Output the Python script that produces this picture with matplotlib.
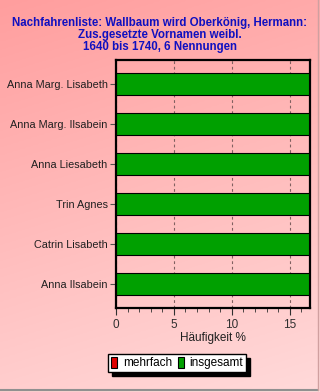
import numpy as np
import matplotlib
matplotlib.use("Agg")
import matplotlib.pyplot as plt
from matplotlib.patches import Rectangle
from matplotlib.lines import Line2D

categories = ["Anna Marg. Lisabeth", "Anna Marg. Ilsabein", "Anna Liesabeth",
              "Trin Agnes", "Catrin Lisabeth", "Anna Ilsabein"]
insgesamt = [16.67, 16.67, 16.67, 16.67, 16.67, 16.67]
mehrfach = [0, 0, 0, 0, 0, 0]
series_names = ["mehrfach", "insgesamt"]
title = "Nachfahrenliste: Wallbaum wird Oberkönig, Hermann:\nZus.gesetzte Vornamen weibl.\n1640 bis 1740, 6 Nennungen"
xlabel = "Häufigkeit %"

plt.rcParams['font.family'] = ['Liberation Sans', 'DejaVu Sans']

fig = plt.figure(figsize=(3.2, 3.92), dpi=100)

# background gradient
bg = fig.add_axes([0, 0, 1, 1], zorder=-10)
h, w = 200, 100
yy = np.linspace(0, 1, h)[:, None]
xx = np.linspace(0, 1, w)[None, :]
t = np.clip(0.8 * yy + 0.2 * xx, 0, 1)
top = np.array([255, 158, 158]) / 255
bot = np.array([255, 218, 218]) / 255
img = top[None, None, :] * (1 - t[..., None]) + bot[None, None, :] * t[..., None]
bg.imshow(img, aspect='auto', extent=[0, 1, 0, 1], origin='upper')
bg.set_axis_off()
bg.set_xlim(0, 1)
bg.set_ylim(0, 1)
bg.add_line(Line2D([0, 0.994], [0.004, 0.004], color='#909090', lw=1.5, transform=bg.transAxes))
bg.add_line(Line2D([0.994, 0.994], [0.004, 1], color='#d0a0a0', lw=1.0, transform=bg.transAxes))

ax = fig.add_axes([116 / 320, 1 - 308 / 392, 194 / 320, 248 / 392])
ax.set_facecolor('none')

y = np.arange(len(categories))
ax.barh(y, insgesamt, height=0.56, color='#00A000', edgecolor='black', lw=0.8, zorder=3)
ax.barh(y, mehrfach, height=0.56, color='#E00000', edgecolor='black', lw=0.8, zorder=3)

ax.set_yticks(y)
ax.set_yticklabels(categories, fontsize=7.8, color='#202020')
ax.set_ylim(len(categories) - 0.4, -0.6)
ax.set_xlim(0, 16.75)
ax.set_xticks([0, 5, 10, 15])
ax.set_xticks(np.arange(0, 17, 1), minor=True)
ax.tick_params(axis='x', which='major', length=5, labelsize=8.5, pad=3, colors='#303030')
ax.tick_params(axis='x', which='minor', length=3, color='#303030')
ax.tick_params(axis='y', length=4, color='#505050', pad=2)
ax.xaxis.grid(True, linestyle=(0, (2.5, 2.5)), color='#806060', lw=0.8, zorder=1)
for s in ax.spines.values():
    s.set_linewidth(1.6)
    s.set_color('black')
ax.set_xlabel(xlabel, fontsize=8.5, color='#202020', labelpad=1)

fig.text(0.5, 1 - 17 / 392, title, ha='center', va='top', fontsize=8.3, fontweight='bold',
         color='#1010C0', linespacing=1.02)

handles = [Rectangle((0, 0), 1, 1, facecolor='#E00000', edgecolor='black', lw=0.8),
           Rectangle((0, 0), 1, 1, facecolor='#00A000', edgecolor='black', lw=0.8)]
leg = fig.legend(handles, series_names, loc='center', bbox_to_anchor=(177 / 320, 1 - 363 / 392),
                 ncol=2, fontsize=8.5, frameon=True, fancybox=False,
                 shadow={'color': 'black', 'alpha': 1.0, 'ox': 3, 'oy': -3},
                 handlelength=0.5, handleheight=1.1, handletextpad=0.5, columnspacing=0.5,
                 borderpad=0.25, borderaxespad=0)
leg.get_frame().set_edgecolor('black')
leg.get_frame().set_linewidth(1.0)

fig.savefig("out.png", dpi=100)
